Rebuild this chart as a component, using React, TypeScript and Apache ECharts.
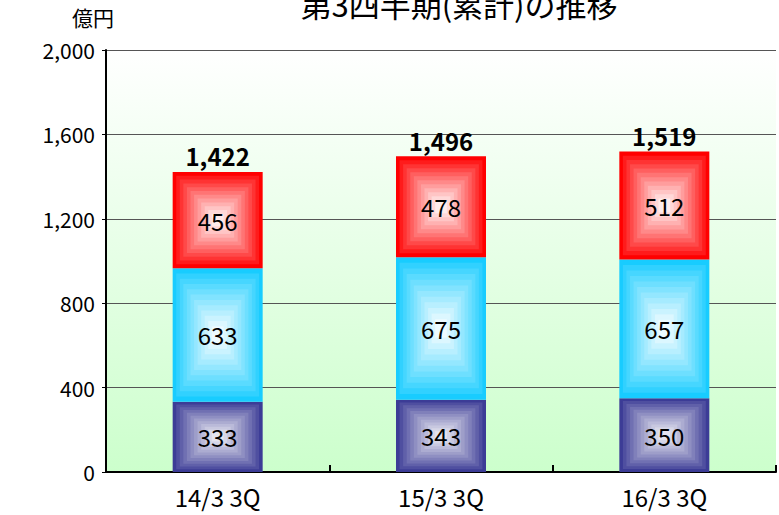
import React, { useEffect, useRef } from "react";
import * as echarts from "echarts";

const categories = ["14/3 3Q", "15/3 3Q", "16/3 3Q"];
const bottomValues = [333, 343, 350];
const middleValues = [633, 675, 657];
const topValues = [456, 478, 512];
const totals = [1422, 1496, 1519];
const yTicks = [0, 400, 800, 1200, 1600, 2000];

const FONT = '"Noto Sans CJK JP", "Noto Sans", sans-serif';
const STEPS = 12;

function hexToRgb(h: string) {
  const n = parseInt(h.slice(1), 16);
  return [(n >> 16) & 255, (n >> 8) & 255, n & 255];
}
function mix(a: string, b: string, t: number) {
  const A = hexToRgb(a), B = hexToRgb(b);
  const c = A.map((v, i) => Math.round(v + (B[i] - v) * t));
  return `rgb(${c[0]},${c[1]},${c[2]})`;
}

function makeRender(edge: string, center: string) {
  return (params: any, api: any) => {
    const idx = api.value(0);
    const s = api.value(1);
    const e = api.value(2);
    const p0 = api.coord([idx, s]);
    const p1 = api.coord([idx, e]);
    const bw = api.size([1, 0])[0] * 0.403;
    const x = p0[0] - bw / 2;
    const y = p1[1];
    const w = bw;
    const h = p0[1] - p1[1];
    const children: any[] = [];
    for (let i = 0; i < STEPS; i++) {
      const t = i / STEPS;
      const dx = (t * w) / 2 * 0.95;
      const dy = (t * h) / 2 * 0.95;
      children.push({
        type: "rect",
        shape: { x: x + dx, y: y + dy, width: w - 2 * dx, height: h - 2 * dy },
        style: { fill: mix(edge, center, Math.pow(t, 0.9)) },
      });
    }
    children.push({
      type: "text",
      style: {
        text: String(Math.round(e - s)),
        x: x + w / 2,
        y: y + h / 2,
        align: "center",
        verticalAlign: "middle",
        fontSize: 24,
        fontFamily: FONT,
        fill: "#000",
      },
    });
    return { type: "group", children };
  };
}

export default function App() {
  const ref = useRef<HTMLDivElement>(null);
  useEffect(() => {
    if (!ref.current) return;
    const chart = echarts.init(ref.current, undefined, { renderer: "svg" });
    const base1 = bottomValues;
    const base2 = bottomValues.map((v, i) => v + middleValues[i]);
    const seg = (name: string, starts: number[], vals: number[], edge: string, center: string) => ({
      type: "custom",
      name,
      renderItem: makeRender(edge, center),
      encode: { x: 0, y: [1, 2] },
      data: categories.map((_, i) => [i, starts[i], starts[i] + vals[i]]),
      z: 3,
    });
    chart.setOption({
      animation: false,
      title: {
        text: "第3四半期(累計)の推移",
        left: 454,
        textAlign: "center",
        top: -17,
        textStyle: { fontSize: 31, fontWeight: "normal", fontFamily: FONT, color: "#000" },
      },
      graphic: [
        {
          type: "text",
          left: 72,
          top: 6,
          style: { text: "億円", fontSize: 21, fontFamily: FONT, fill: "#000" },
        },
      ],
      grid: {
        left: 106,
        right: 3,
        top: 50,
        bottom: 43,
        show: true,
        borderWidth: 0,
        backgroundColor: new echarts.graphic.LinearGradient(0, 0, 0, 1, [
          { offset: 0, color: "#FFFFFF" },
          { offset: 1, color: "#CCFFCC" },
        ]),
      },
      xAxis: {
        type: "category",
        data: categories,
        axisLine: { lineStyle: { color: "#000", width: 2 } },
        axisTick: { show: true, inside: true, length: 7, lineStyle: { color: "#000", width: 2 } },
        axisLabel: { fontSize: 24, fontFamily: FONT, color: "#000", margin: 12 },
      },
      yAxis: {
        type: "value",
        min: yTicks[0],
        max: yTicks[yTicks.length - 1],
        interval: yTicks[1] - yTicks[0],
        axisLine: { show: true, lineStyle: { color: "#000", width: 2 } },
        axisTick: { show: true, length: 4, lineStyle: { color: "#000", width: 1 } },
        splitLine: { show: true, lineStyle: { color: "#555", width: 1 } },
        axisLabel: {
          fontSize: 21,
          fontFamily: FONT,
          color: "#000",
          margin: 11,
          formatter: (v: number) => v.toLocaleString("en-US"),
        },
      },
      series: [
        seg("bottom", categories.map(() => 0), bottomValues, "#3C3C96", "#F2F2F6"),
        seg("middle", base1, middleValues, "#18CCFF", "#FFFFFF"),
        seg("top", base2, topValues, "#FF0000", "#FFFFFF"),
        {
          type: "custom",
          name: "total",
          z: 4,
          encode: { x: 0, y: 1 },
          data: categories.map((_, i) => [i, totals[i]]),
          renderItem: (params: any, api: any) => {
            const p = api.coord([api.value(0), api.value(1)]);
            return {
              type: "text",
              style: {
                text: api.value(1).toLocaleString("en-US"),
                x: p[0],
                y: p[1] - 16,
                align: "center",
                verticalAlign: "middle",
                fontSize: 24,
                fontWeight: "bold",
                fontFamily: FONT,
                fill: "#000",
              },
            };
          },
        },
      ],
    });
    return () => chart.dispose();
  }, []);
  return (
    <div
      ref={ref}
      style={{ position: "fixed", left: 0, top: 0, width: 779, height: 515, background: "#fff" }}
    />
  );
}
